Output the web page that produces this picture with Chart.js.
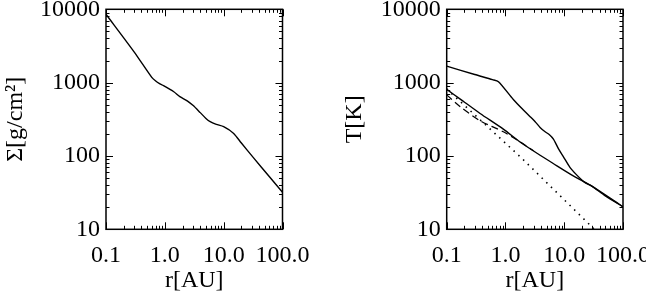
<!DOCTYPE html>
<html>
<head>
<meta charset="utf-8">
<script src="https://cdn.jsdelivr.net/npm/chart.js@4"></script>
<style>
  html, body { margin: 0; padding: 0; background: #fff; overflow: hidden; width: 646px; height: 300px; }
  .panel { position: absolute; top: 0; height: 300px; }
  #leftBox { left: 0; width: 320px; }
  #rightBox { left: 320px; width: 340px; }
</style>
</head>
<body>
<div class="panel" id="leftBox"><canvas id="sigmaChart"></canvas></div>
<div class="panel" id="rightBox"><canvas id="tempChart"></canvas></div>
<script>
// ---- data ----
const xTickValues = [0.1, 1, 10, 100];
const xTickLabels = ['0.1', '1.0', '10.0', '100.0'];
const yTickValues = [10, 100, 1000, 10000];
const yTickLabels = ['10', '100', '1000', '10000'];

// surface density, left panel
const sigmaR   = [0.1, 0.3, 0.6, 0.7, 0.8, 0.95, 1.42, 1.8, 2.4, 3.0, 4.0, 5.0, 5.9, 7.5, 10, 14.8, 20, 32, 60, 100];
const sigmaVal = [8550, 2630, 1180, 1050, 975, 910, 752, 643, 565, 490, 390, 325, 293, 270, 251, 203, 150, 95, 52, 32];

// temperature, right panel
const tUpperR   = [0.1, 0.3, 0.6, 0.76, 1.36, 2.02, 2.63, 3.3, 3.88, 4.73, 5.6, 6.55, 8.0, 9.7, 12.5, 16.4, 22, 29.5, 50, 100];
const tUpperVal = [1680, 1290, 1100, 1030, 590, 423, 343, 285, 245, 214, 195, 170, 125, 97.5, 70, 54.8, 44, 38.8, 28.5, 20.3];

const tLineR   = [0.1, 0.17, 0.37, 0.92, 1.77, 3.5, 6.5, 14, 29.5, 100];
const tLineVal = [810, 597, 380, 232, 155, 108, 79, 54, 38.8, 20.3];

const tDashR   = [0.1, 0.17, 0.37, 0.92, 1.77, 3.0];
const tDashVal = [680, 469, 302, 214, 156, 118];

const tDotR   = [0.1, 0.12, 1.9, 40];
const tDotVal = [820, 715, 93, 8.5];

const pts = (xs, ys) => xs.map((x, i) => ({ x: x, y: ys[i] }));

const serif = "'Liberation Serif', 'Times New Roman', serif";

// box + inward IDL-style ticks on all four sides
const frameTicks = {
    id: 'frameTicks',
    afterDraw(chart) {
        const { ctx, chartArea: a, scales: { x, y } } = chart;
        ctx.save();
        ctx.strokeStyle = '#000';
        ctx.lineWidth = 1.5;
        ctx.strokeRect(a.left, a.top, a.right - a.left, a.bottom - a.top);
        ctx.lineWidth = 1;
        ctx.beginPath();
        for (let d = -1; d <= 2; d++) {
            for (let m = 1; m <= 9; m++) {
                const v = m * Math.pow(10, d);
                if (v < x.min - 1e-9 || v > x.max + 1e-9) continue;
                const px = Math.round(x.getPixelForValue(v)) + 0.5;
                const len = m === 1 ? 7 : 3.5;
                ctx.moveTo(px, a.bottom); ctx.lineTo(px, a.bottom - len);
                ctx.moveTo(px, a.top); ctx.lineTo(px, a.top + len);
            }
        }
        for (let d = 1; d <= 4; d++) {
            for (let m = 1; m <= 9; m++) {
                const v = m * Math.pow(10, d);
                if (v < y.min - 1e-9 || v > y.max + 1e-9) continue;
                const py = Math.round(y.getPixelForValue(v)) + 0.5;
                const len = m === 1 ? 7 : 3.5;
                ctx.moveTo(a.left, py); ctx.lineTo(a.left + len, py);
                ctx.moveTo(a.right, py); ctx.lineTo(a.right - len, py);
            }
        }
        ctx.stroke();
        ctx.restore();
    }
};

function makeOptions(yTitle, yWidth, rightPad, yTitlePad) {
    return {
        responsive: true,
        maintainAspectRatio: false,
        animation: false,
        layout: { padding: { left: 0, right: rightPad, top: 9.3, bottom: 0 } },
        plugins: { legend: { display: false }, tooltip: { enabled: false } },
        elements: { point: { radius: 0 } },
        scales: {
            x: {
                type: 'logarithmic',
                min: 0.1,
                max: 100,
                afterBuildTicks: (s) => { s.ticks = xTickValues.map(v => ({ value: v })); },
                afterFit: (s) => { s.height = 70.7; s.paddingLeft = 0; s.paddingRight = 0; },
                grid: { display: false, drawTicks: false },
                border: { display: false },
                ticks: {
                    autoSkip: false,
                    maxRotation: 0,
                    padding: 12,
                    color: '#000',
                    font: { family: serif, size: 24 },
                    callback: (v, i) => xTickLabels[i]
                },
                title: {
                    display: true,
                    text: 'r[AU]',
                    color: '#000',
                    font: { family: serif, size: 24 },
                    padding: { top: 0, bottom: 5 }
                }
            },
            y: {
                type: 'logarithmic',
                min: 10,
                max: 10000,
                afterBuildTicks: (s) => { s.ticks = yTickValues.map(v => ({ value: v })); },
                afterFit: (s) => { s.width = yWidth; s.paddingTop = 0; s.paddingBottom = 0; },
                grid: { display: false, drawTicks: false },
                border: { display: false },
                ticks: {
                    autoSkip: false,
                    padding: 6,
                    color: '#000',
                    font: { family: serif, size: 24 },
                    callback: (v, i) => yTickLabels[i]
                },
                title: {
                    display: true,
                    text: yTitle,
                    color: '#000',
                    font: { family: serif, size: 24 },
                    padding: { top: yTitlePad, bottom: 0 }
                }
            }
        }
    };
}

const lineStyle = {
    borderColor: '#000',
    borderWidth: 1.4,
    fill: false,
    tension: 0.25
};

new Chart(document.getElementById('sigmaChart'), {
    type: 'line',
    data: {
        datasets: [
            Object.assign({ label: 'Sigma', data: pts(sigmaR, sigmaVal) }, lineStyle)
        ]
    },
    options: makeOptions('Σ[g/cm²]', 106, 37.5, 1),
    plugins: [frameTicks]
});

new Chart(document.getElementById('tempChart'), {
    type: 'line',
    data: {
        datasets: [
            Object.assign({ label: 'T', data: pts(tUpperR, tUpperVal) }, lineStyle),
            Object.assign({ label: 'T line', data: pts(tLineR, tLineVal) }, lineStyle),
            Object.assign({ label: 'T dashed', data: pts(tDashR, tDashVal) }, lineStyle, { borderWidth: 1.2, borderDash: [7, 4] }),
            Object.assign({ label: 'T dotted', data: pts(tDotR, tDotVal) }, lineStyle, { borderWidth: 1.6, borderDash: [1.5, 5], tension: 0 })
        ]
    },
    options: makeOptions('T[K]', 126.7, 37, 20.6),
    plugins: [frameTicks]
});
</script>
</body>
</html>
